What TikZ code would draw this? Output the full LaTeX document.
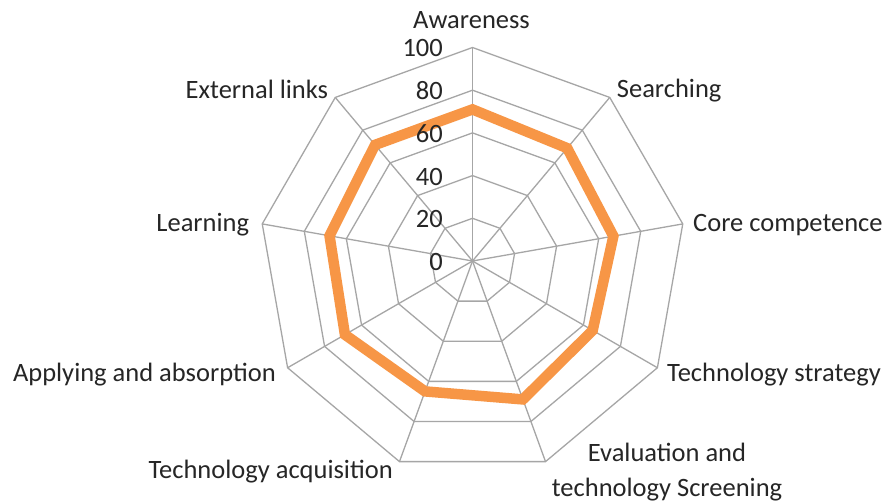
\documentclass[tikz,border=0pt]{standalone}
\usepackage{fontspec}
\setmainfont{Carlito}
\usepackage{tikz}
\usetikzlibrary{positioning, calc}
\definecolor{gridgray}{HTML}{A6A6A6}
\definecolor{series}{HTML}{F79646}
\definecolor{labeltext}{HTML}{262626}
\tikzstyle{gridline} = [draw=gridgray, line width=1.3pt]
\tikzstyle{axislabel} = [inner sep=0pt, text=labeltext, font=\fontsize{26.5}{35}\selectfont]
\tikzstyle{ticklabel} = [axislabel, anchor=base east]
\tikzstyle{dataline} = [draw=series, line width=10.5pt, line join=miter]

\begin{document}
\begin{tikzpicture}[x=1pt, y=1pt]

    % Canvas
    \path[fill=white, use as bounding box] (0,0) rectangle (885,502);
    \coordinate (center) at (472.5,241);

    % Rings and spokes
    \begin{scope}[shift={(center)}]
        \foreach \r in {20,40,...,100}
            \draw[gridline] (90:{2.135*\r}) \foreach \k in {1,...,8} { -- ({90-40*\k}:{2.135*\r}) } -- cycle;
        \foreach \k in {0,...,8} {
            \coordinate (tip\k) at ({90-40*\k}:213.5);
            \draw[gridline] (center) -- (tip\k);
        }

        % Series
        \draw[dataline] (90:{2.135*71}) \foreach \v [count=\k from 1] in {69,67,65,69,65,69,68,71} { -- ({90-40*\k}:{2.135*\v}) } -- cycle;
    \end{scope}

    % Scale labels
    \foreach \v in {0,20,...,100}
        \node[ticklabel] (tick\v) at (443,{231.5+2.135*\v}) {\v};

    % Axis labels
    \node[axislabel, anchor=base] (awareness) at (471.5,473.7) {Awareness};
    \node[axislabel, anchor=base west] (searching) at (616.7,404) {Searching};
    \node[axislabel, anchor=base west] (core) at (693,270) {Core competence};
    \node[axislabel, anchor=base west] (strategy) at (667,120.3) {Technology strategy};
    \node[axislabel, anchor=base, align=center] (evaluation) at (667,5.3) {Evaluation and\\technology Screening};
    \node[axislabel, anchor=base east] (acquisition) at (393,23.7) {Technology acquisition};
    \node[axislabel, anchor=base east] (applying) at (276,120.3) {Applying and absorption};
    \node[axislabel, anchor=base east] (learning) at (249.3,270.3) {Learning};
    \node[axislabel, anchor=base east] (external) at (328.3,403.7) {External links};

\end{tikzpicture}
\end{document}
